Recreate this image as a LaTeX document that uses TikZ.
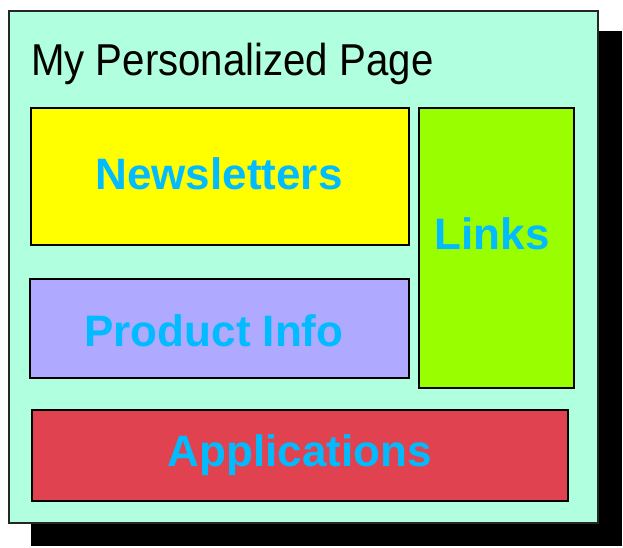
\documentclass[tikz,border=0pt]{standalone}
\usepackage{fontspec}
\setmainfont{Liberation Sans}
\usepackage{xcolor}
\definecolor{pageaqua}{RGB}{176,255,222}
\definecolor{newsyellow}{RGB}{255,255,0}
\definecolor{linksgreen}{RGB}{153,255,0}
\definecolor{infolilac}{RGB}{175,170,255}
\definecolor{appsred}{RGB}{224,67,79}
\definecolor{labelcyan}{RGB}{0,187,255}

\tikzset{
    panel/.style={draw=black, line width=1.5pt},
    paneltext/.style={text=labelcyan, font=\fontsize{33}{40}\selectfont\bfseries, inner sep=0pt}
}

\begin{document}
\begin{tikzpicture}[x=0.75pt, y=-0.75pt]
        \useasboundingbox (0, 0) rectangle (623, 548);

        % shadow and page
        \fill[black] (31, 31) rectangle (622, 546);
        \draw[fill=pageaqua, draw=black!85, line width=1.2pt] (9, 11) rectangle (598, 523);
        \node[anchor=base west, inner sep=0pt] (title) at (31, 76)
            {\scalebox{0.9}[1]{\fontsize{33.5}{40}\selectfont My Personalized Page}};

        % panels
        \draw[panel, fill=newsyellow] (31, 108) rectangle (409, 245);
        \draw[panel, fill=linksgreen] (419, 108) rectangle (574, 388);
        \draw[panel, fill=infolilac] (30, 279) rectangle (409, 378);
        \draw[panel, fill=appsred] (32, 410) rectangle (568, 501);

        \node[paneltext] (news) at (219, 174) {Newsletters};
        \node[paneltext] (links) at (492, 234) {Links};
        \node[paneltext] (info) at (214, 331) {Product Info};
        \node[paneltext] (apps) at (300, 455) {Applications};
    \end{tikzpicture}
\end{document}
